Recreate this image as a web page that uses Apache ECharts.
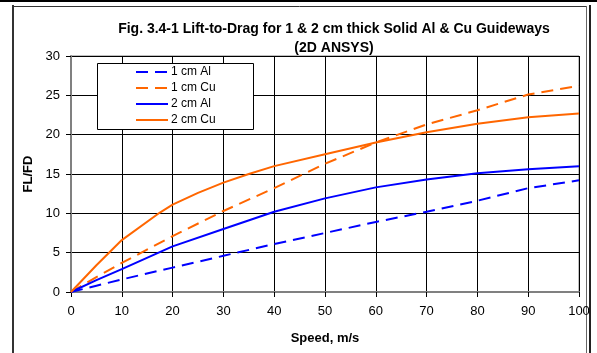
<!DOCTYPE html>
<html><head><meta charset="utf-8">
<script src="https://cdn.jsdelivr.net/npm/echarts@6/dist/echarts.min.js"></script>
<style>html,body{margin:0;padding:0;background:#fff}#c{width:597px;height:353px}</style>
</head><body><div id="c"></div>
<script>
var seriesNames = ['1 cm Al', '1 cm Cu', '2 cm Al', '2 cm Cu'];
var al1 = [[0,0],[5,0.8],[10,1.6],[20,3.1],[30,4.6],[40,6.1],[50,7.5],[60,8.9],[70,10.2],[80,11.6],[90,13.2],[100,14.2]];
var cu1 = [[0,0],[5,1.9],[10,3.7],[20,7.1],[30,10.3],[40,13.2],[50,16.3],[60,19.0],[70,21.3],[80,23.1],[90,25.1],[100,26.2]];
var al2 = [[0,0],[5,1.5],[10,2.9],[20,5.8],[30,8.0],[40,10.2],[50,11.9],[60,13.3],[70,14.3],[80,15.1],[90,15.6],[100,16.0]];
var cu2 = [[0,0],[5,3.4],[10,6.6],[17.5,10.1],[20,11.1],[25,12.6],[30,13.9],[35,15.0],[40,16.0],[50,17.5],[60,19.0],[70,20.3],[80,21.4],[90,22.2],[100,22.7]];
var xTicks = [0,10,20,30,40,50,60,70,80,90,100];
var yTicks = [0,5,10,15,20,25,30];

var BLUE = '#0000FF', ORANGE = '#FF6600';
var FONT = 'Liberation Sans, Arial, sans-serif';
function mk(name, data, color, dashed) {
  return {
    name: name, type: 'line', data: data, symbol: 'none', z: 5,
    lineStyle: {color: color, width: 2, type: dashed ? [12, 7] : 'solid'},
    itemStyle: {color: color}
  };
}
var chart = echarts.init(document.getElementById('c'), null, {renderer: 'canvas'});
chart.setOption({
  animation: false,
  backgroundColor: '#fff',
  title: {
    text: 'Fig. 3.4-1 Lift-to-Drag for 1 & 2 cm thick Solid Al & Cu Guideways\n(2D ANSYS)',
    left: 329, top: 15, textAlign: 'center',
    textStyle: {fontFamily: FONT, fontSize: 14, fontWeight: 'bold', color: '#000', lineHeight: 19}
  },
  grid: {left: 71, right: 18, top: 56, bottom: 61, show: true, borderColor: '#808080', borderWidth: 1},
  legend: {
    orient: 'vertical', left: 135, top: 66, padding: 0, z: 100,
    itemWidth: 32, itemHeight: 14, itemGap: 4,
    itemStyle: {opacity: 0},
    data: seriesNames,
    textStyle: {fontFamily: FONT, fontSize: 12, color: '#000', padding: [0,0,0,-2]}
  },
  xAxis: {
    type: 'value', min: xTicks[0], max: xTicks[xTicks.length-1], interval: 10,
    name: 'Speed, m/s', nameLocation: 'middle', nameGap: 40,
    nameTextStyle: {fontFamily: FONT, fontSize: 13, fontWeight: 'bold', color: '#000'},
    axisLine: {lineStyle: {color: '#808080', width: 2}},
    axisTick: {show: true, length: 5, lineStyle: {color: '#000'}},
    axisLabel: {fontFamily: FONT, fontSize: 13, color: '#000', margin: 13},
    splitLine: {show: true, lineStyle: {color: '#000', width: 1}}
  },
  yAxis: {
    type: 'value', min: yTicks[0], max: yTicks[yTicks.length-1], interval: 5,
    name: 'FL/FD', nameLocation: 'middle', nameGap: 33,
    nameTextStyle: {fontFamily: FONT, fontSize: 13, fontWeight: 'bold', color: '#000'},
    axisLine: {show: true, lineStyle: {color: '#808080', width: 2}},
    axisTick: {show: true, length: 5, lineStyle: {color: '#000'}},
    axisLabel: {fontFamily: FONT, fontSize: 13, color: '#000', margin: 11},
    splitLine: {show: true, lineStyle: {color: '#000', width: 1}}
  },
  graphic: [
    {type: 'rect', shape: {x: 0, y: 0, width: 597, height: 2}, style: {fill: '#000'}, silent: true},
    {type: 'rect', shape: {x: 12, y: 5, width: 2, height: 348}, style: {fill: '#333'}, silent: true},
    {type: 'line', shape: {x1: 13, y1: 6.5, x2: 586, y2: 6.5}, style: {stroke: '#333', lineWidth: 1}, silent: true},
    {type: 'line', shape: {x1: 586.5, y1: 6, x2: 586.5, y2: 353}, style: {stroke: '#666', lineWidth: 1}, silent: true},
    {type: 'rect', shape: {x: 589, y: 5, width: 2, height: 348}, style: {fill: '#222'}, silent: true},
    {type: 'rect', z: 50, shape: {x: 97.5, y: 63.5, width: 156, height: 66}, style: {fill: '#fff', stroke: '#000', lineWidth: 1}, silent: true}
  ],
  series: [mk(seriesNames[0], al1, BLUE, true), mk(seriesNames[1], cu1, ORANGE, true), mk(seriesNames[2], al2, BLUE, false), mk(seriesNames[3], cu2, ORANGE, false)]
});
</script></body></html>
